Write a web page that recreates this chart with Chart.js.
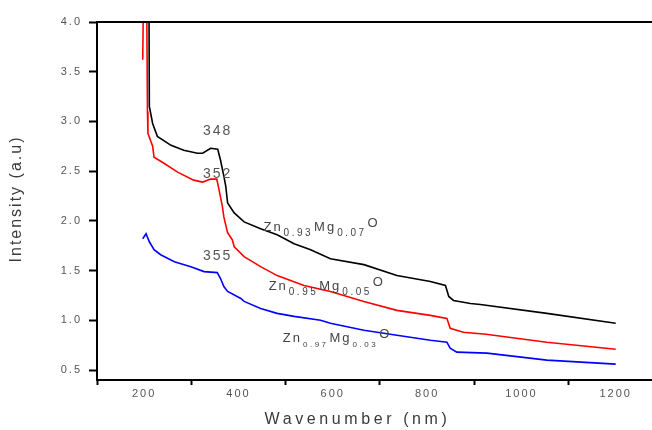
<!DOCTYPE html>
<html>
<head>
<meta charset="utf-8">
<script src="https://cdn.jsdelivr.net/npm/chart.js@4"></script>
<style>
html,body{margin:0;padding:0;background:#fff;overflow:hidden;}
#wrap{width:652px;height:430px;}
</style>
</head>
<body>
<div id="wrap"><canvas id="c" width="652" height="430"></canvas></div>
<script>
// ---- data (wavelength in nm, intensity in a.u.) ----
const blackX = [210,211,218,228,257,284,313,324,341,356,362,369,373,377,391,412,447,482,518,553,595,666,736,807,839,846,856,892,913,1054,1200];
const blackY = [4.5,3.15,2.98,2.85,2.76,2.71,2.68,2.68,2.73,2.72,2.61,2.45,2.35,2.18,2.08,1.99,1.92,1.86,1.77,1.71,1.62,1.56,1.45,1.39,1.35,1.24,1.20,1.17,1.16,1.07,0.97];

const redX = [197,199,205,207,208,218,221,242,271,305,324,341,354,359,366,369,377,387,391,412,447,482,539,595,666,736,807,842,849,877,925,1054,1200];
const redY = [3.62,4.5,4.5,3.10,2.88,2.75,2.64,2.58,2.49,2.41,2.39,2.42,2.42,2.31,2.14,2.04,1.88,1.81,1.74,1.64,1.54,1.45,1.35,1.29,1.19,1.10,1.05,1.02,0.92,0.88,0.86,0.78,0.71];

const blueX = [197,204,211,221,235,264,299,327,355,362,369,377,405,412,447,482,518,574,595,666,736,807,842,849,863,927,1054,1200];
const blueY = [1.82,1.87,1.79,1.71,1.66,1.59,1.54,1.49,1.48,1.42,1.34,1.29,1.22,1.19,1.12,1.07,1.04,1.00,0.97,0.90,0.85,0.80,0.78,0.72,0.68,0.67,0.60,0.56];

const xTicks = [100,200,300,400,500,600,700,800,900,1000,1100,1200];
const yTicks = [0.5,1.0,1.5,2.0,2.5,3.0,3.5,4.0];

const xTitle = 'Wavenumber (nm)';
const yTitle = 'Intensity (a.u)';

// peak annotations: [text, x(nm), y(a.u.)]
const peakLabels = [["348",356,2.90],["352",356,2.47],["355",356,1.65]];
// composition labels: [Zn sub, Mg sub, x(nm) of left edge, y(a.u.) baseline]
const compLabels = [["0.93","0.07",453,1.90],["0.95","0.05",464,1.31],["0.97","0.03",494,0.78]];

const toPts = (xs, ys) => xs.map((x,i)=>({x:x, y:ys[i]}));

const FONT = 'Arial, "Liberation Sans", sans-serif';

const decor = {
  id:'decor',
  beforeDraw(chart){ chart.ctx.letterSpacing = '2px'; },
  afterDraw(chart){
    const ctx = chart.ctx, a = chart.chartArea, xs = chart.scales.x, ys = chart.scales.y;
    ctx.save();
    ctx.letterSpacing = '0px';
    // top frame line
    ctx.strokeStyle = '#000'; ctx.lineWidth = 2;
    ctx.beginPath(); ctx.moveTo(a.left-1, a.top); ctx.lineTo(a.right, a.top); ctx.stroke();
    // axis titles
    ctx.fillStyle = '#3a3a3a';
    ctx.textAlign = 'center'; ctx.textBaseline = 'middle';
    ctx.font = '16px ' + FONT;
    ctx.letterSpacing = '3.6px';
    ctx.fillText(xTitle, (a.left + a.right) / 2 - 17, chart.height - 10);
    ctx.save();
    ctx.translate(17, (a.top + a.bottom) / 2 - 2);
    ctx.rotate(-Math.PI / 2);
    ctx.letterSpacing = '2px';
    ctx.fillText(yTitle, 0, 0);
    ctx.restore();
    // peak labels
    ctx.letterSpacing = '2px';
    ctx.fillStyle = '#555';
    ctx.font = '14px ' + FONT;
    peakLabels.forEach(p => ctx.fillText(p[0], xs.getPixelForValue(p[1]), ys.getPixelForValue(p[2])));
    // composition labels
    ctx.textAlign = 'left'; ctx.textBaseline = 'alphabetic';
    compLabels.forEach((c, i) => {
      let x = xs.getPixelForValue(c[2]);
      const y = ys.getPixelForValue(c[3]);
      const sub = i === 2 ? 8 : 10;
      const parts = [["Zn",13,0],[c[0],sub,5],["Mg",13,0],[c[1],sub,5],["O",13,-4]];
      parts.forEach(p => {
        ctx.font = p[1] + 'px ' + FONT;
        ctx.letterSpacing = (p[1] < 11 ? 2.5 : 2) + 'px';
        ctx.fillStyle = '#444';
        ctx.fillText(p[0], x, y + p[2]);
        x += ctx.measureText(p[0]).width + 1;
      });
    });
    ctx.restore();
    ctx.letterSpacing = '0px';
  }
};

const ds = (label, xs, ys, color) => ({
  label, data: toPts(xs, ys), borderColor: color, backgroundColor: color,
  borderWidth: 1.6, pointRadius: 0, tension: 0, fill: false
});

new Chart(document.getElementById('c'), {
  type: 'line',
  data: { datasets: [
    ds('Zn0.93Mg0.07O', blackX, blackY, '#000000'),
    ds('Zn0.95Mg0.05O', redX, redY, '#ff0000'),
    ds('Zn0.97Mg0.03O', blueX, blueY, '#0000ff')
  ]},
  options: {
    responsive: false, animation: false, devicePixelRatio: 1,
    layout: { padding: { top: 22, right: 0, bottom: 0, left: 0 } },
    plugins: { legend: { display: false }, tooltip: { enabled: false } },
    scales: {
      x: {
        type: 'linear', min: 100, max: 1277,
        afterBuildTicks: s => { s.ticks = xTicks.map(v => ({value: v})); },
        afterFit: s => { s.height = 50; },
        grid: { drawOnChartArea: false, tickLength: 5, tickWidth: 2,
          tickColor: c => (c.tick && c.tick.value % 200 === 100) ? '#000' : 'rgba(0,0,0,0)' },
        border: { display: true, color: '#000', width: 2 },
        ticks: { color: '#555', font: { family: FONT, size: 11 }, padding: 2, maxRotation: 0, autoSkip: false,
          callback: v => (v % 200 === 0) ? String(v) : '' },
        title: { display: false }
      },
      y: {
        type: 'linear', min: 0.4, max: 4.0,
        afterBuildTicks: s => { s.ticks = yTicks.map(v => ({value: v})); },
        afterFit: s => { s.width = 97; },
        grid: { drawOnChartArea: false, tickLength: 8, tickWidth: 2, tickColor: '#000' },
        border: { display: true, color: '#000', width: 2 },
        ticks: { color: '#555', font: { family: FONT, size: 11 }, padding: 7,
          callback: v => Number(v).toFixed(1) },
        title: { display: false }
      }
    }
  },
  plugins: [decor]
});
</script>
</body>
</html>
